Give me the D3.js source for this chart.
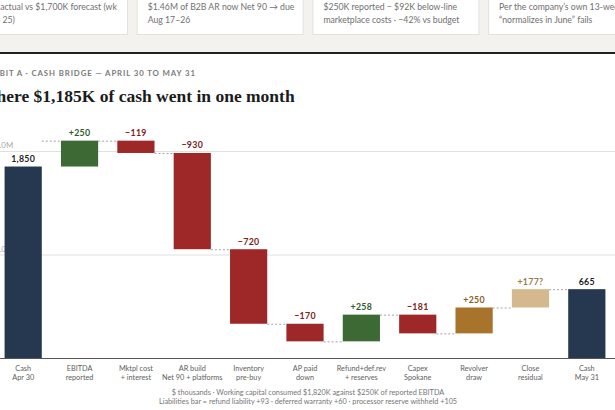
<!DOCTYPE html>
<html>
<head>
<meta charset="utf-8">
<script src="https://cdn.jsdelivr.net/npm/d3@7"></script>
<style>
  html, body { margin: 0; padding: 0; background: #fff; overflow: hidden; }
  svg { display: block; }
</style>
</head>
<body>
<script>
// cash bridge, $ thousands
var categories = ["cashApr", "ebitda", "mktpl", "ar", "inventory", "ap", "refund", "capex", "revolver", "residual", "cashMay"];
var labelTop = ["Cash", "EBITDA", "Mktpl cost", "AR build", "Inventory", "AP paid", "Refund+def.rev", "Capex", "Revolver", "Close", "Cash"];
var labelBottom = ["Apr 30", "reported", "+ interest", "Net 90 + platforms", "pre-buy", "down", "+ reserves", "Spokane", "draw", "residual", "May 31"];
var values = [1850, 250, -119, -930, -720, -170, 258, -181, 250, 177, 665];
var kinds = ["total", "pos", "neg", "neg", "neg", "neg", "pos", "neg", "revolver", "residual", "total"];
var valueText = ["1,850", "+250", "\u2212119", "\u2212930", "\u2212720", "\u2212170", "+258", "\u2212181", "+250", "+177?", "665"];
var yTicks = [1000, 2000];
var yTickText = ["1.0M", "2.0M"];

var cardLines = [
  ["$665K actual vs $1,700K forecast (wk", "21 thru 25)"],
  ["$1.46M of B2B AR now Net 90 \u2192 due", "Aug 17\u201326"],
  ["$250K reported \u2212 $92K below-line", "marketplace costs \u00b7 \u221242% vs budget"],
  ["Per the company\u2019s own 13-week", "\u201cnormalizes in June\u201d fails"]
];

var fill = {total: "#263750", pos: "#3d6a34", neg: "#9e2828", revolver: "#a8732a", residual: "#d5b88e"};
var ink = {total: "#1d1d1d", pos: "#2f5a2a", neg: "#7f2020", revolver: "#8a5e1c", residual: "#9a7a4c"};

var W = 615, H = 410;
var sans = "Lato, 'Open Sans', sans-serif";

var svg = d3.select("body").append("svg")
    .attr("width", W)
    .attr("height", H);

// top band with cards
svg.append("rect").attr("x", 0).attr("y", 0).attr("width", W).attr("height", 53).attr("fill", "#f4f2ee");
var cards = svg.selectAll("g.card")
    .data(cardLines)
    .enter().append("g")
    .attr("transform", function(d, i){ return "translate(" + (-39 + i * 175.7) + ",0)"; });
cards.append("rect")
    .attr("x", 0.5).attr("y", -10.5)
    .attr("width", 166).attr("height", 45)
    .attr("fill", "#fff").attr("stroke", "#e4e1db");
cards.each(function(lines){
    var g = d3.select(this);
    lines.forEach(function(t, j){
        g.append("text")
            .attr("x", 11).attr("y", 9.5 + j * 13.5)
            .attr("font-family", sans).attr("font-size", 8.7)
            .attr("fill", "#707070")
            .text(t);
    });
});
svg.append("rect").attr("x", 0).attr("y", 52).attr("width", W).attr("height", 2).attr("fill", "#222");

// headings
svg.append("text")
    .attr("x", -22).attr("y", 76)
    .attr("font-family", sans).attr("font-size", 7.8).attr("font-weight", 700)
    .attr("letter-spacing", 0.9).attr("fill", "#7b7b7b")
    .text("EXHIBIT A \u00b7 CASH BRIDGE \u2014 APRIL 30 TO MAY 31");
svg.append("text")
    .attr("x", -21).attr("y", 102)
    .attr("font-family", "'Liberation Serif', Georgia, serif").attr("font-size", 17.5).attr("font-weight", 700)
    .attr("fill", "#1b1b1b")
    .text("Where $1,185K of cash went in one month");

// chart
var x = d3.scaleBand()
    .domain(categories)
    .range([-5, 615])
    .paddingInner(0.34)
    .paddingOuter(0.17);

var y = d3.scaleLinear()
    .domain([0, 2000])
    .range([358, 151]);

// running totals
var rows = [];
var run = 0;
values.forEach(function(v, i){
    var start, end;
    if (kinds[i] === "total") { start = 0; end = v; run = v; }
    else { start = run; end = run + v; run = end; }
    rows.push({key: categories[i], start: start, end: end, kind: kinds[i], label: valueText[i], i: i});
});

svg.selectAll("line.grid")
    .data(yTicks)
    .enter().append("line")
    .attr("x1", -5).attr("x2", W)
    .attr("y1", function(d){ return y(d) + 0.5; })
    .attr("y2", function(d){ return y(d) + 0.5; })
    .attr("stroke", "#e2e0dc");
svg.selectAll("text.ytick")
    .data(yTicks)
    .enter().append("text")
    .attr("x", -5).attr("y", function(d){ return y(d) - 3; })
    .attr("font-family", sans).attr("font-size", 7.8)
    .attr("fill", "#a8a8a8")
    .text(function(d, i){ return yTickText[i]; });

// connectors
var links = rows.slice(0, -1).map(function(r, i){
    var lvl = i === 0 ? rows[1].end : r.end;
    return {a: r.key, b: rows[i + 1].key, v: lvl};
});
svg.selectAll("line.link")
    .data(links)
    .enter().append("line")
    .attr("x1", function(d){ return x(d.a) + x.bandwidth(); })
    .attr("x2", function(d){ return x(d.b); })
    .attr("y1", function(d){ return y(d.v) + 0.5; })
    .attr("y2", function(d){ return y(d.v) + 0.5; })
    .attr("stroke", "#9a9a9a").attr("stroke-width", 0.9)
    .attr("stroke-dasharray", "2,2");

svg.selectAll("rect.bar")
    .data(rows)
    .enter().append("rect")
    .attr("x", function(d){ return x(d.key); })
    .attr("y", function(d){ return y(Math.max(d.start, d.end)); })
    .attr("width", x.bandwidth())
    .attr("height", function(d){ return Math.abs(y(d.start) - y(d.end)); })
    .attr("fill", function(d){ return fill[d.kind]; });

svg.selectAll("text.val")
    .data(rows)
    .enter().append("text")
    .attr("x", function(d){ return x(d.key) + x.bandwidth() / 2; })
    .attr("y", function(d){ return y(Math.max(d.start, d.end)) - 4.5; })
    .attr("text-anchor", "middle")
    .attr("font-family", sans).attr("font-size", 8.8).attr("font-weight", 700)
    .attr("letter-spacing", 0.3)
    .attr("fill", function(d){ return ink[d.kind]; })
    .text(function(d){ return d.label; });

// baseline
svg.append("line")
    .attr("x1", -5).attr("x2", W)
    .attr("y1", y(0) + 0.5).attr("y2", y(0) + 0.5)
    .attr("stroke", "#555").attr("stroke-width", 1.2);

var xl = svg.selectAll("g.xl")
    .data(categories)
    .enter().append("g")
    .attr("transform", function(d){ return "translate(" + (x(d) + x.bandwidth() / 2) + ",0)"; });
xl.append("text")
    .attr("y", 370.5)
    .attr("text-anchor", "middle")
    .attr("font-family", sans).attr("font-size", 7.3).attr("fill", "#606060")
    .text(function(d, i){ return labelTop[i]; });
xl.append("text")
    .attr("y", 379.5)
    .attr("text-anchor", "middle")
    .attr("font-family", sans).attr("font-size", 7.3).attr("fill", "#606060")
    .text(function(d, i){ return labelBottom[i]; });

var notes = [
    "$ thousands \u00b7 Working capital consumed $1,820K against $250K of reported EBITDA",
    "Liabilities bar = refund liability +93 \u00b7 deferred warranty +60 \u00b7 processor reserve withheld +105"
];
svg.selectAll("text.note")
    .data(notes)
    .enter().append("text")
    .attr("x", 308)
    .attr("y", function(d, i){ return 394.5 + i * 9.5; })
    .attr("text-anchor", "middle")
    .attr("font-family", sans).attr("font-size", 7.3)
    .attr("fill", "#767676")
    .text(function(d){ return d; });
</script>
</body>
</html>
